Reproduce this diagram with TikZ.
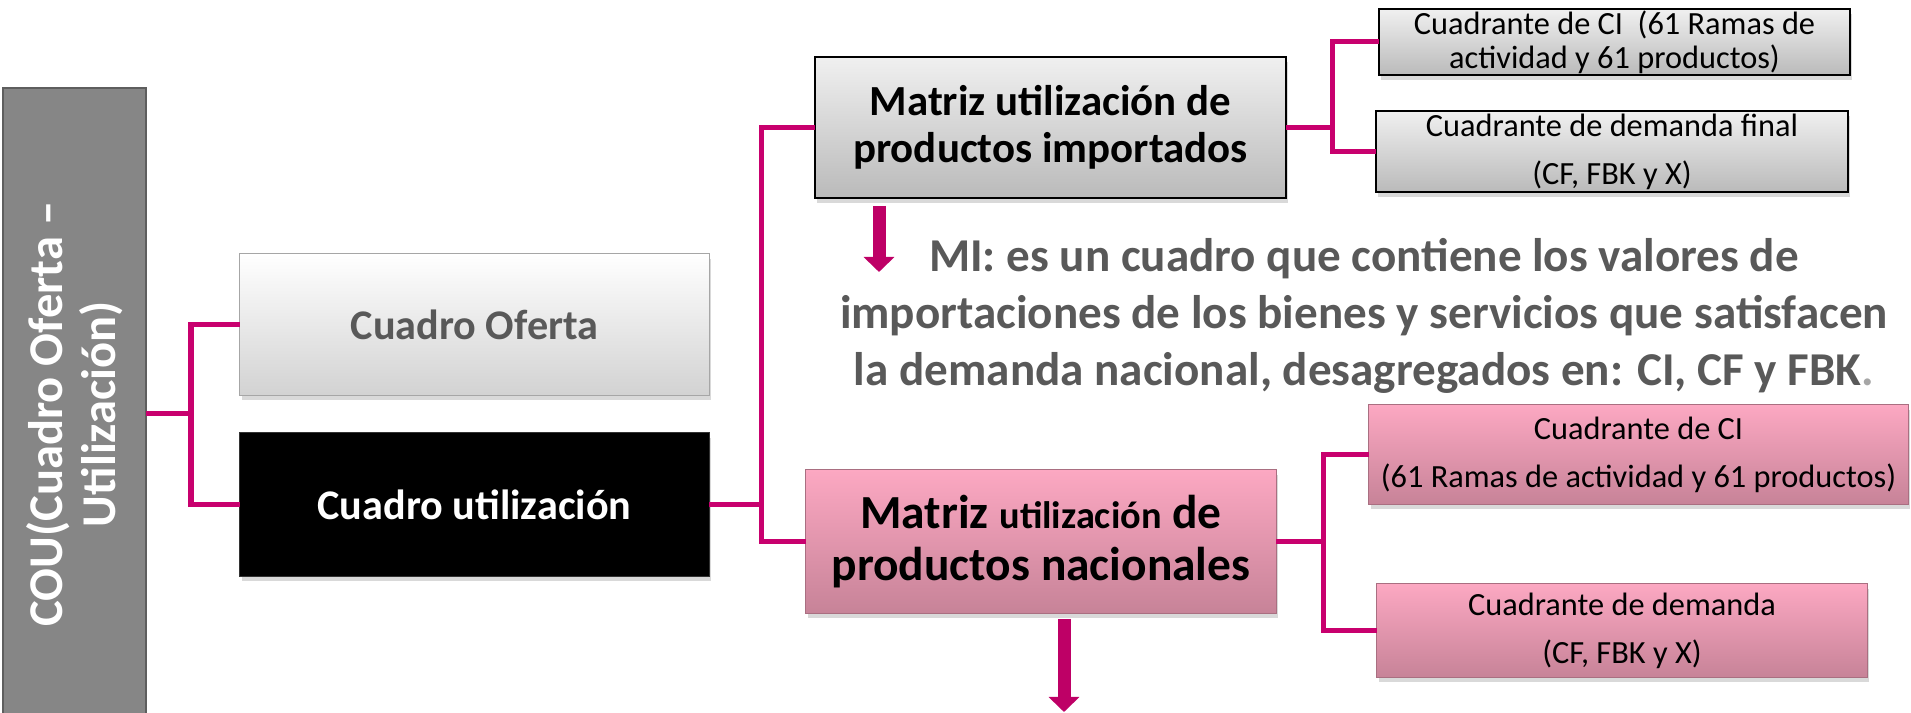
\documentclass[tikz,border=0pt]{standalone}
\usepackage{fontspec}
\setmainfont{Carlito}
\usepackage{xcolor}
\usetikzlibrary{arrows.meta,shadows}

\definecolor{linkc}{HTML}{C8006E}
\definecolor{arrowc}{HTML}{BE0066}
\definecolor{greytop}{HTML}{F0F0F0}
\definecolor{greybot}{HTML}{BABABA}
\definecolor{pinktop}{HTML}{FCA8C2}
\definecolor{pinkbot}{HTML}{C78398}
\definecolor{textgrey}{HTML}{595959}
\definecolor{dotgrey}{HTML}{A6A6A6}
\definecolor{coufill}{HTML}{868686}

\begin{document}
\begin{tikzpicture}[x=0.01cm,y=-0.01cm,
	conn/.style={draw=linkc,line width=0.05cm},
	box/.style={rectangle,inner sep=0pt,outer sep=0pt,align=center,font=\bfseries},
	shade/.style={drop shadow={opacity=0.3,shadow xshift=0.02cm,shadow yshift=-0.05cm}},
	greybox/.style={box,shade,draw=black,line width=0.015cm,top color=greytop,bottom color=greybot},
	pinkbox/.style={box,shade,draw=pinkbot!85!black,line width=0.01cm,top color=pinktop,bottom color=pinkbot},
	quad/.style={font=\fontsize{9.2}{9.6}\selectfont},
	quadgap/.style={font=\fontsize{9.2}{13.7}\selectfont},
	bigarrow/.style={draw=arrowc,line width=0.13cm,-{Triangle[width=0.30cm,length=0.15cm,fill=arrowc]}}
]
	\useasboundingbox (0,0) rectangle (1911,713);

	% first level
	\node[box,rotate=90,fill=coufill,draw=coufill!70!black,line width=0.015cm,text=white,
		minimum width=6.52cm,minimum height=1.43cm,font=\bfseries\fontsize{13.8}{15}\selectfont]
		(cou) at (74.5,414) {COU(Cuadro Oferta --\\Utilización)};

	\node[box,shade,draw=gray!70,line width=0.01cm,top color=white,bottom color=gray!35,text=textgrey,
		minimum width=4.69cm,minimum height=1.41cm,font=\bfseries\fontsize{12}{14}\selectfont]
		(ofe) at (474.5,324.5) {Cuadro Oferta};
	\node[box,shade,fill=black,draw=gray!40!black,line width=0.01cm,text=white,
		minimum width=4.69cm,minimum height=1.43cm,font=\bfseries\fontsize{12}{14}\selectfont]
		(uti) at (474.5,504.5) {Cuadro utilización};

	% matrices
	\node[greybox,line width=0.02cm,minimum width=4.71cm,minimum height=1.41cm,
		font=\bfseries\fontsize{12.2}{13.2}\selectfont]
		(imp) at (1050.5,127.5) {Matriz utilización de\\productos importados};
	\node[pinkbox,minimum width=4.70cm,minimum height=1.43cm,
		font=\bfseries\fontsize{13.5}{14.8}\selectfont]
		(nac) at (1041,541.5) {Matriz {\fontsize{10.9}{14.8}\selectfont utilización} de\\productos nacionales};

	% quadrants
	\node[greybox,quad,minimum width=4.71cm,minimum height=0.66cm] (ci1) at (1614.5,42)
		{Cuadrante de CI\ \ (61 Ramas de\\actividad y 61 productos)};
	\node[greybox,quadgap,minimum width=4.72cm,minimum height=0.81cm] (df1) at (1612,151.5)
		{Cuadrante de demanda final\\(CF, FBK y X)};
	\node[pinkbox,quadgap,minimum width=5.39cm,minimum height=0.99cm] (ci2) at (1638.5,454.5)
		{Cuadrante de CI\\(61 Ramas de actividad y 61 productos)};
	\node[pinkbox,quadgap,minimum width=4.90cm,minimum height=0.93cm] (df2) at (1622,630.5)
		{Cuadrante de demanda\\(CF, FBK y X)};

	\node[align=center,text=textgrey,inner sep=0pt,font=\bfseries\fontsize{13.4}{16.2}\selectfont]
		(mi) at (1364,316) {MI: es un cuadro que contiene los valores de\\
		importaciones de los bienes y servicios que satisfacen\\
		la demanda nacional, desagregados en: CI, CF y FBK{\color{dotgrey}.}};

	% connectors
	\coordinate (j1) at (191,414);
	\coordinate (j2) at (761,504.5);
	\coordinate (j3) at (1332,127.5);
	\coordinate (j4) at (1323,541.5);
	\draw[conn] (cou.south) -- (j1);
	\draw[conn] (ofe.west) -| (j1) |- (uti.west);
	\draw[conn] (uti.east) -- (j2);
	\draw[conn] (imp.west) -| (j2) |- (nac.west);
	\draw[conn] (imp.east) -- (j3);
	\draw[conn] (ci1.west) -| (j3) |- (df1.west);
	\draw[conn] (nac.east) -- (j4);
	\draw[conn] (ci2.west) -| (j4) |- (df2.west);

	\coordinate (a1) at (879,206);
	\coordinate (a1t) at (879,272);
	\coordinate (a2) at (1064,619);
	\coordinate (a2t) at (1064,712);
	\draw[bigarrow] (a1) -- (a1t);
	\draw[bigarrow] (a2) -- (a2t);
\end{tikzpicture}
\end{document}
